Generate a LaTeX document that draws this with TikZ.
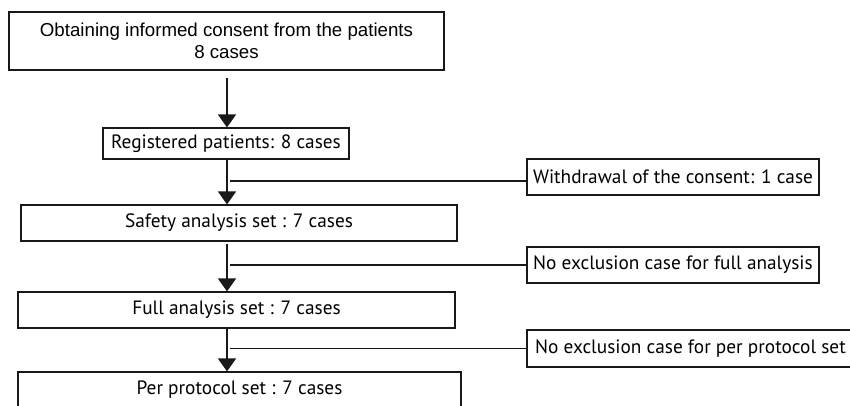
\documentclass[tikz,border=0pt]{standalone}
\usepackage{fontspec}
\setmainfont{PT Sans}
\newfontfamily\arialfont{Liberation Sans}
\usetikzlibrary{arrows.meta}
\begin{document}
\begin{tikzpicture}[x=1pt,y=-1pt,
  box/.style={draw=black!90,line width=1.1pt,inner sep=0pt,align=center,font=\fontsize{19.3}{22}\selectfont},
  conn/.style={draw=black!90,line width=1.3pt},
  arr/.style={conn,-{Triangle[width=18pt,length=13pt]}}]
\useasboundingbox (0,0) rectangle (850,405);
\coordinate (spine) at (227,0);
\node[box,minimum width=435pt,minimum height=58pt,font=\arialfont\fontsize{18.7}{22}\selectfont] (b1) at (226.5,41) {Obtaining informed consent from the patients\\8 cases};
\node[box,minimum width=246pt,minimum height=31pt] (b2) at (226,143.5) {Registered patients: 8 cases};
\node[box,minimum width=436pt,minimum height=36pt] (b3) at (239,223) {Safety analysis set : 7 cases};
\node[box,minimum width=437pt,minimum height=36pt] (b4) at (236.5,310) {Full analysis set : 7 cases};
\node[box,minimum width=443pt,minimum height=36pt] (b5) at (239.5,390) {Per protocol set : 7 cases};
\node[box,minimum width=292pt,minimum height=36pt] (s1) at (673,177) {Withdrawal of the consent: 1 case};
\node[box,minimum width=292pt,minimum height=36pt] (s2) at (673,265) {No exclusion case for full analysis};
\node[box,minimum width=327pt,minimum height=37pt] (s3) at (690.5,348.5) {No exclusion case for per protocol set};
\draw[arr] ([yshift=-7pt]b1.south -| spine) -- (b2.north -| spine);
\draw[arr] (b2.south -| spine) -- (b3.north -| spine);
\draw[arr] ([yshift=-2pt]b3.south -| spine) -- (b4.north -| spine);
\draw[arr] (b4.south -| spine) -- (b5.north -| spine);
\coordinate (h1) at (230,181);
\coordinate (h2) at (230,265);
\coordinate (h3) at (230,348.5);
\draw[conn] (h1) -- (h1 -| s1.west);
\draw[conn] (h2) -- (h2 -| s2.west);
\draw[conn] (h3) -- (h3 -| s3.west);
\end{tikzpicture}
\end{document}
